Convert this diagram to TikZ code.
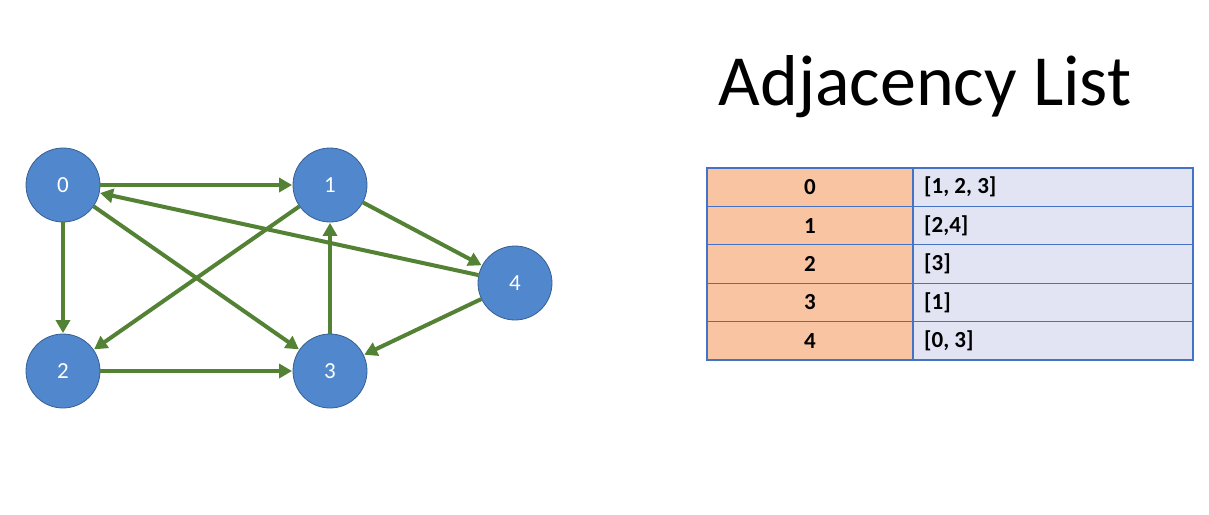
\documentclass[tikz,border=0pt]{standalone}
\usepackage{fontspec}
\setmainfont{Carlito}
\usetikzlibrary{arrows.meta}
\definecolor{edgegreen}{RGB}{84,130,53}
\definecolor{nodeblue}{RGB}{80,135,205}
\definecolor{nodeborder}{RGB}{55,95,145}
\definecolor{keyfill}{RGB}{248,196,162}
\definecolor{valfill}{RGB}{226,228,244}
\definecolor{gridblue}{RGB}{68,114,196}
\tikzset{
  vert/.style={circle, fill=nodeblue, draw=nodeborder, line width=0.8pt, minimum size=74pt, inner sep=0pt, text=white, font=\fontsize{23}{23}\selectfont},
  edge/.style={draw=edgegreen, line width=4pt, -{Triangle[length=13pt,width=14pt]}, shorten >=0.5pt},
  keycell/.style={draw=gridblue, line width=1.2pt, fill=keyfill, minimum width=206pt, minimum height=38.4pt, inner sep=0pt, font=\bfseries\fontsize{23}{23}\selectfont},
  valcell/.style={draw=gridblue, line width=1.2pt, fill=valfill, minimum width=280pt, minimum height=38.4pt, inner sep=0pt},
  vallabel/.style={anchor=west, inner sep=0pt, font=\bfseries\fontsize{23}{23}\selectfont}
}
\begin{document}
\begin{tikzpicture}[x=1pt,y=-1pt]
\useasboundingbox[fill=white] (0,0) rectangle (1209,514);
% vertices
\node[vert] (n0) at (63,185) {0};
\node[vert] (n1) at (330,185) {1};
\node[vert] (n2) at (63,371) {2};
\node[vert] (n3) at (330,371) {3};
\node[vert] (n4) at (515,283) {4};
% edges
\draw[edge] (n0) -- (n1);
\draw[edge] (n0) -- (n2);
\draw[edge] (n0) -- (n3);
\draw[edge] (n1) -- (n2);
\draw[edge] (n1) -- (n4);
\draw[edge] (n2) -- (n3);
\draw[edge] (n3) -- (n1);
\draw[edge] (n4) -- (n0);
\draw[edge] (n4) -- (n3);
% title
\node[anchor=base, inner sep=0pt, font=\fontsize{72}{72}\selectfont] (title) at (925,105) {Adjacency List};
% table
\foreach \i/\k/\v in {0/0/{[1, 2, 3]},1/1/{[2,4]},2/2/{[3]},3/3/{[1]},4/4/{[0, 3]}}{
  \node[keycell] (k\i) at (810,187.2+38.4*\i) {\k};
  \node[valcell] (v\i) at (1053,187.2+38.4*\i) {};
  \node[vallabel] (l\i) at (924,187.2+38.4*\i) {\v};
}
\end{tikzpicture}
\end{document}
